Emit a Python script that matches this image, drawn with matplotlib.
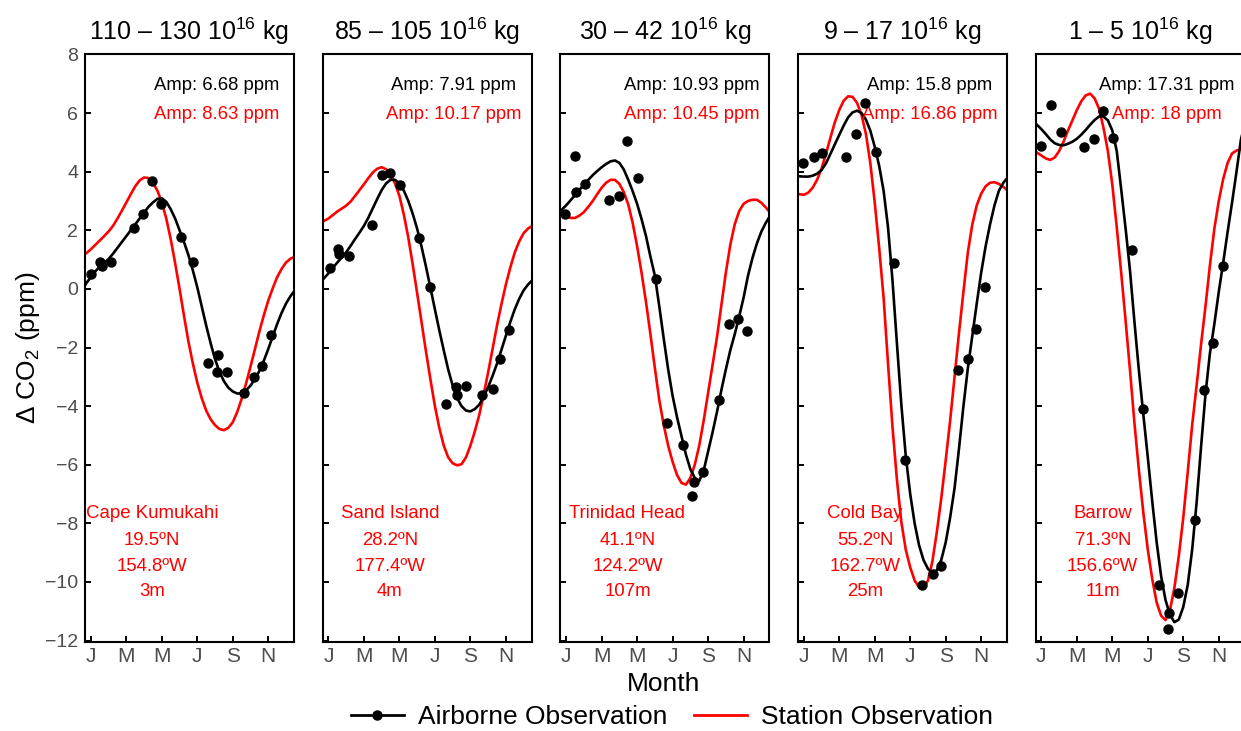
import numpy as np
import matplotlib
matplotlib.use("Agg")
import matplotlib.pyplot as plt
from matplotlib.lines import Line2D

plt.rcParams["font.family"] = ["Liberation Sans", "DejaVu Sans"]
plt.rcParams["mathtext.fontset"] = "custom"
plt.rcParams["mathtext.rm"] = "Liberation Sans"
plt.rcParams["mathtext.it"] = "Liberation Sans:italic"
plt.rcParams["mathtext.default"] = "regular"

# ---------------------------------------------------------------- data
month_grid = np.arange(0.5, 12.51, 0.25)
month_ticks = [1, 3, 5, 7, 9, 11]
month_labels = ["J", "M", "M", "J", "S", "N"]

mass_ranges = ["110 – 130", "85 – 105", "30 – 42", "9 – 17", "1 – 5"]
station_names = ["Cape Kumukahi", "Sand Island", "Trinidad Head", "Cold Bay", "Barrow"]
station_lat = ["19.5ºN", "28.2ºN", "41.1ºN", "55.2ºN", "71.3ºN"]
station_lon = ["154.8ºW", "177.4ºW", "124.2ºW", "162.7ºW", "156.6ºW"]
station_alt = ["3m", "4m", "107m", "25m", "11m"]
amp_airborne = ["6.68", "7.91", "10.93", "15.8", "17.31"]
amp_station = ["8.63", "10.17", "10.45", "16.86", "18"]

# airborne observations (month, dCO2)
obs_month_kum = [1.0, 1.53, 1.6, 2.16, 3.44, 3.96, 4.43, 4.98, 6.07, 6.76, 7.62, 8.19, 8.13, 8.69, 9.63, 10.19, 10.66, 11.17]
obs_value_kum = [0.51, 0.91, 0.77, 0.93, 2.08, 2.57, 3.68, 2.88, 1.77, 0.91, -2.53, -2.27, -2.83, -2.83, -3.56, -2.99, -2.64, -1.56]
obs_month_sand = [1.06, 1.56, 1.62, 2.18, 3.44, 4.0, 4.49, 5.05, 6.12, 6.74, 7.64, 8.19, 8.22, 8.73, 9.65, 10.25, 10.68, 11.19]
obs_value_sand = [0.71, 1.37, 1.2, 1.13, 2.17, 3.87, 3.95, 3.55, 1.75, 0.05, -3.92, -3.36, -3.63, -3.33, -3.63, -3.43, -2.4, -1.39]
obs_month_trin = [0.95, 1.49, 1.53, 2.09, 3.41, 3.98, 4.45, 5.05, 6.05, 6.71, 7.61, 8.21, 8.12, 8.72, 9.63, 10.19, 10.66, 11.17]
obs_value_trin = [2.56, 4.54, 3.29, 3.57, 3.04, 3.17, 5.06, 3.78, 0.35, -4.57, -5.31, -6.59, -7.06, -6.25, -3.78, -1.21, -1.04, -1.44]
obs_month_cold = [0.95, 1.56, 2.05, 3.4, 3.97, 4.44, 5.06, 6.08, 6.7, 7.64, 8.26, 8.71, 9.67, 10.27, 10.71, 11.22]
obs_value_cold = [4.31, 4.51, 4.65, 4.49, 5.27, 6.35, 4.68, 0.88, -5.84, -10.1, -9.73, -9.47, -2.76, -2.39, -1.36, 0.06]
obs_month_brw = [0.96, 1.57, 2.09, 3.41, 3.98, 4.45, 5.05, 6.09, 6.71, 7.65, 8.21, 8.12, 8.72, 9.66, 10.19, 10.66, 11.23]
obs_value_brw = [4.88, 6.27, 5.36, 4.83, 5.1, 6.08, 5.16, 1.34, -4.09, -10.1, -11.05, -11.62, -10.37, -7.88, -3.45, -1.84, 0.77]

# fitted seasonal cycles sampled every quarter month (0.5 ... 12.5)
air_fit_kum = [-0.05, 0.2, 0.4, 0.6, 0.75, 0.88, 1.02, 1.2, 1.4, 1.6,
               1.8, 2.0, 2.2, 2.4, 2.6, 2.8, 2.95, 3.07, 3.09, 2.97,
               2.72, 2.4, 2.0, 1.6, 1.15, 0.63, 0.05, -0.6, -1.25, -1.85,
               -2.4, -2.83, -3.15, -3.37, -3.5, -3.57, -3.56, -3.46, -3.3, -3.07,
               -2.8, -2.45, -2.05, -1.62, -1.2, -0.82, -0.5, -0.25, -0.05]
stn_fit_kum = [1.1, 1.22, 1.35, 1.5, 1.65, 1.8, 1.96, 2.15, 2.4, 2.67,
               2.95, 3.23, 3.5, 3.7, 3.8, 3.78, 3.62, 3.35, 2.95, 2.4,
               1.7, 0.88, 0.0, -0.92, -1.8, -2.55, -3.2, -3.73, -4.15, -4.45,
               -4.65, -4.78, -4.82, -4.74, -4.55, -4.2, -3.75, -3.22, -2.65, -2.05,
               -1.45, -0.9, -0.4, 0.02, 0.4, 0.68, 0.9, 1.03, 1.1]
air_fit_sand = [0.2, 0.36, 0.53, 0.72, 0.9, 1.07, 1.25, 1.47, 1.7, 1.92,
                2.15, 2.43, 2.75, 3.07, 3.37, 3.6, 3.72, 3.72, 3.6, 3.35,
                3.0, 2.56, 2.05, 1.43, 0.75, 0.03, -0.7, -1.42, -2.1, -2.75,
                -3.3, -3.72, -4.0, -4.15, -4.18, -4.1, -3.95, -3.68, -3.35, -2.97,
                -2.55, -2.08, -1.6, -1.13, -0.7, -0.34, -0.05, 0.15, 0.3]
stn_fit_sand = [2.25, 2.32, 2.4, 2.52, 2.64, 2.74, 2.84, 2.98, 3.17, 3.37,
                3.57, 3.78, 3.97, 4.1, 4.15, 4.08, 3.91, 3.6, 3.17, 2.53,
                1.75, 0.83, -0.15, -1.15, -2.15, -3.1, -4.0, -4.75, -5.35, -5.75,
                -5.95, -6.02, -5.98, -5.75, -5.35, -4.86, -4.3, -3.6, -2.85, -2.05,
                -1.25, -0.52, 0.15, 0.73, 1.24, 1.62, 1.9, 2.06, 2.15]
air_fit_trin = [2.55, 2.7, 2.85, 3.02, 3.2, 3.38, 3.55, 3.72, 3.88, 4.02,
                4.15, 4.26, 4.35, 4.38, 4.3, 4.07, 3.72, 3.33, 2.9, 2.38,
                1.8, 1.1, 0.45, -0.6, -1.7, -2.75, -3.65, -4.38, -5.02, -5.65,
                -6.15, -6.45, -6.55, -6.2, -5.55, -4.9, -4.2, -3.45, -2.75, -2.1,
                -1.55, -0.95, -0.3, 0.45, 1.05, 1.55, 1.95, 2.25, 2.5]
stn_fit_trin = [2.65, 2.55, 2.47, 2.42, 2.42, 2.5, 2.62, 2.8, 3.0, 3.23,
                3.45, 3.62, 3.72, 3.72, 3.58, 3.3, 2.88, 2.25, 1.45, 0.55,
                -0.45, -1.55, -2.7, -3.8, -4.65, -5.35, -5.9, -6.35, -6.62, -6.68,
                -6.45, -6.0, -5.35, -4.5, -3.55, -2.6, -1.65, -0.55, 0.55, 1.5,
                2.2, 2.65, 2.9, 3.0, 3.04, 3.04, 2.94, 2.78, 2.6]
air_fit_cold = [3.85, 3.84, 3.83, 3.83, 3.86, 3.93, 4.05, 4.28, 4.6, 4.93,
                5.25, 5.57, 5.85, 6.02, 6.08, 6.0, 5.78, 5.4, 4.85, 4.2,
                3.35, 2.1, 0.3, -1.85, -3.95, -5.7, -7.0, -8.0, -8.75, -9.25,
                -9.55, -9.7, -9.6, -9.25, -8.65, -7.8, -6.8, -5.45, -4.0, -2.7,
                -1.6, -0.5, 0.55, 1.45, 2.2, 2.85, 3.35, 3.62, 3.8]
stn_fit_cold = [3.3, 3.23, 3.21, 3.28, 3.45, 3.72, 4.1, 4.6, 5.15, 5.68,
                6.1, 6.42, 6.57, 6.55, 6.35, 5.95, 5.3, 4.3, 2.95, 1.4,
                -0.3, -2.55, -4.7, -6.5, -7.95, -8.9, -9.5, -9.95, -10.18, -10.2,
                -9.95, -9.3, -8.3, -7.15, -5.85, -4.5, -3.0, -1.5, -0.1, 1.25,
                2.2, 2.85, 3.25, 3.5, 3.62, 3.64, 3.58, 3.48, 3.35]
air_fit_brw = [5.7, 5.6, 5.45, 5.28, 5.1, 4.97, 4.91, 4.9, 4.95, 5.02,
               5.12, 5.26, 5.42, 5.6, 5.76, 5.88, 5.88, 5.75, 5.4, 4.7,
               3.4, 2.05, 0.6, -1.15, -2.8, -4.3, -5.75, -7.25, -8.65, -9.8,
               -10.62, -11.12, -11.37, -11.28, -10.85, -10.1, -8.9, -7.3, -5.4, -3.6,
               -2.2, -1.2, -0.1, 0.9, 1.95, 2.95, 4.0, 5.1, 5.7]
stn_fit_brw = [4.75, 4.65, 4.55, 4.45, 4.4, 4.48, 4.7, 5.02, 5.4, 5.75,
               6.1, 6.4, 6.6, 6.66, 6.5, 6.15, 5.5, 4.7, 3.55, 2.1,
               0.55, -1.1, -2.8, -4.6, -6.2, -7.65, -8.9, -9.9, -10.7, -11.15,
               -11.3, -10.95, -10.2, -9.1, -7.8, -6.25, -4.65, -3.3, -1.9, -0.6,
               0.8, 2.05, 3.0, 3.75, 4.3, 4.62, 4.72, 4.76, 4.75]

obs_months = [obs_month_kum, obs_month_sand, obs_month_trin, obs_month_cold, obs_month_brw]
obs_values = [obs_value_kum, obs_value_sand, obs_value_trin, obs_value_cold, obs_value_brw]
air_fits = [air_fit_kum, air_fit_sand, air_fit_trin, air_fit_cold, air_fit_brw]
stn_fits = [stn_fit_kum, stn_fit_sand, stn_fit_trin, stn_fit_cold, stn_fit_brw]

# ---------------------------------------------------------------- layout
W, H = 1241, 731
fig = plt.figure(figsize=(W / 100, H / 100), dpi=100)

panel_left_px = [85, 322.6, 560.3, 797.9, 1035.5]
panel_w_px = 209
panel_top_px, panel_bot_px = 53.5, 641.5
tick_grey = "#4D4D4D"
narrow = ["Liberation Sans Narrow", "Liberation Sans", "DejaVu Sans"]

for i in range(5):
    ax = fig.add_axes([panel_left_px[i] / W, 1 - panel_bot_px / H,
                       panel_w_px / W, (panel_bot_px - panel_top_px) / H])
    ax.plot(month_grid, stn_fits[i], color="red", lw=1.9, zorder=2,
            solid_joinstyle="round")
    ax.plot(month_grid, air_fits[i], color="black", lw=1.9, zorder=3,
            solid_joinstyle="round")
    ax.plot(obs_months[i], obs_values[i], "o", color="black", ms=6.5, zorder=4)

    ax.set_xlim(0.67, 12.45)
    ax.set_ylim(-12.03, 8.03)
    ax.set_xticks(month_ticks)
    ax.set_xticklabels(month_labels, family=narrow, fontsize=15)
    ax.set_yticks(np.arange(-12, 9, 2))
    ax.tick_params(direction="in", length=4, width=1.4, color="black",
                   labelcolor=tick_grey)
    ax.tick_params(axis="y", labelsize=14, pad=5)
    ax.tick_params(axis="x", pad=4)
    if i > 0:
        ax.tick_params(axis="y", labelleft=False)
    for s in ax.spines.values():
        s.set_linewidth(1.5)

    ax.set_title(mass_ranges[i] + " 10$^{16}$ kg", fontsize=18, pad=10)

    ax.text(0.629, 0.946, "Amp: " + amp_airborne[i] + " ppm", color="black",
            fontsize=13.3, ha="center", va="center", transform=ax.transAxes)
    ax.text(0.629, 0.897, "Amp: " + amp_station[i] + " ppm", color="red",
            fontsize=13.3, ha="center", va="center", transform=ax.transAxes)

    for txt, yf in zip([station_names[i], station_lat[i], station_lon[i], station_alt[i]],
                       [0.2185, 0.1726, 0.1284, 0.0842]):
        ax.text(0.3215, yf, txt, color="red", fontsize=13.4,
                ha="center", va="center", transform=ax.transAxes)

    if i == 0:
        ax.set_ylabel("Δ CO$_2$ (ppm)", fontsize=19, labelpad=2)

fig.text(664 / W, 1 - 684 / H, "Month", fontsize=19, ha="center", va="center")

handles = [Line2D([], [], color="black", lw=2, marker="o", ms=6.5),
           Line2D([], [], color="red", lw=2)]
fig.legend(handles, ["Airborne Observation", "Station Observation"],
           loc="center", bbox_to_anchor=(672 / W, 1 - 717 / H), ncol=2,
           frameon=False, fontsize=19, handlelength=2.0, handletextpad=0.55,
           columnspacing=1.0, borderaxespad=0, borderpad=0)

fig.savefig("out.png", dpi=100)
